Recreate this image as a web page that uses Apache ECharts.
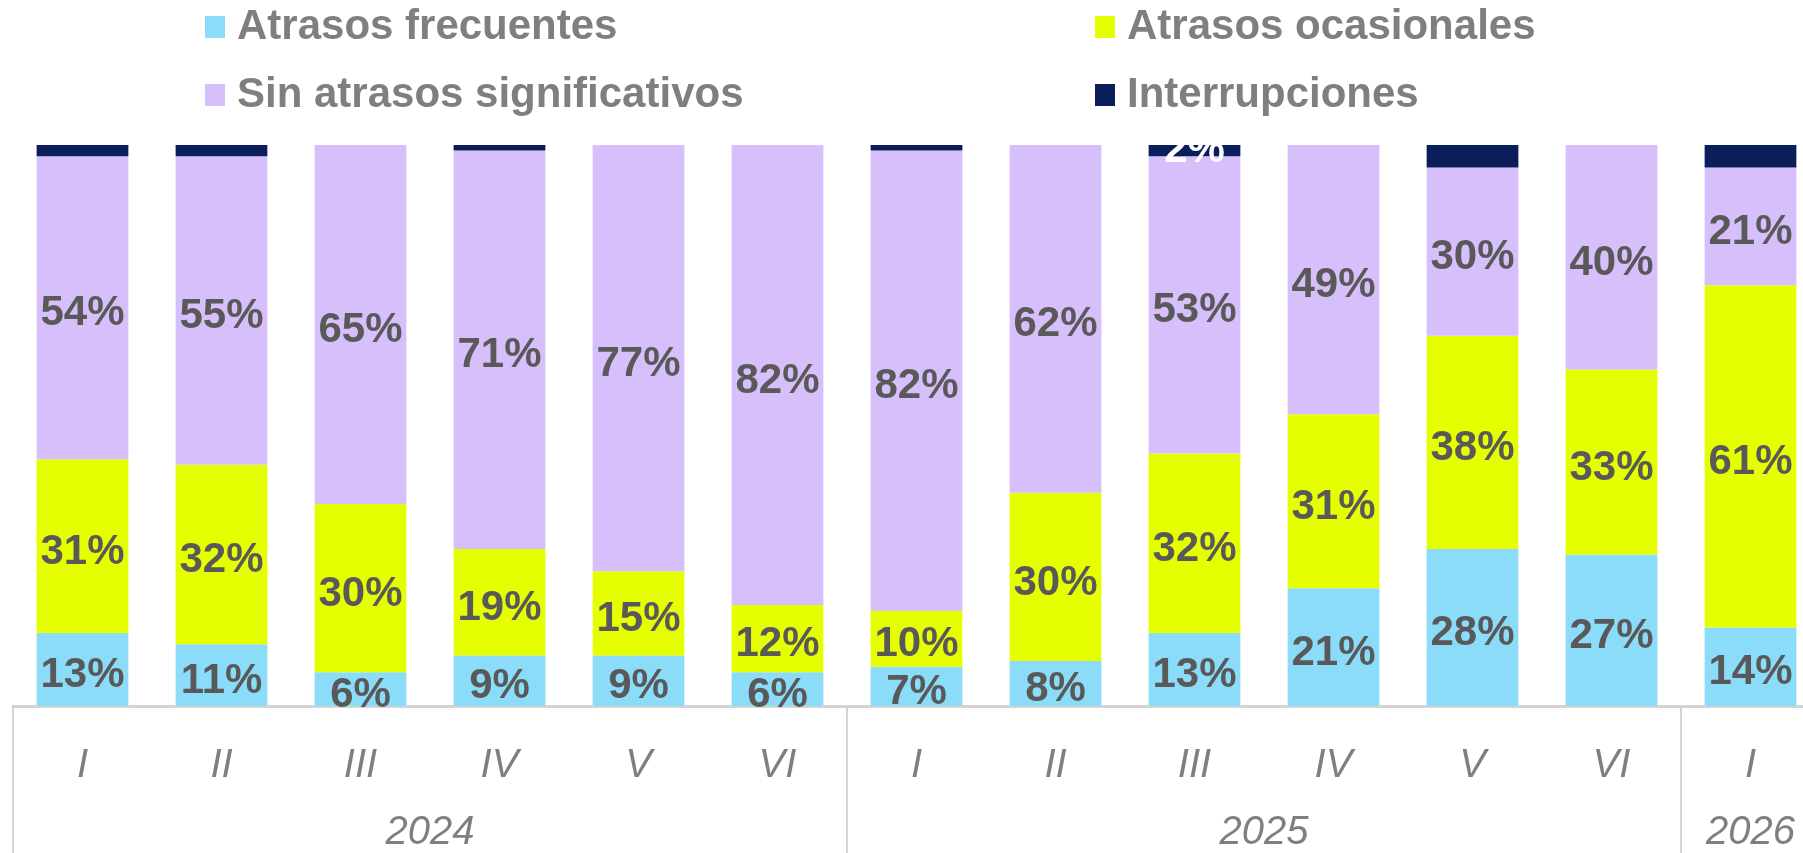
<!DOCTYPE html>
<html>
<head>
<meta charset="utf-8">
<script src="https://cdn.jsdelivr.net/npm/echarts@6.0.0/dist/echarts.min.js"></script>
<style>
html,body{margin:0;padding:0;background:#fff;overflow:hidden;}
#chart{width:1820px;height:853px;}
</style>
</head>
<body>
<div id="chart"></div>
<script>
// tramos (semestres romanos) y años
var periods = ['I','II','III','IV','V','VI','I','II','III','IV','V','VI','I'];
var years = ['2024','2025','2026'];
var yearCenters = [3, 9, 12.5];      // posición del rótulo del año (en bandas)
var yearBounds = [0, 6, 12];         // separadores entre años

// porcentajes por serie
var frecuentes = [13, 11, 6, 9, 9, 6, 7, 8, 13, 21, 28, 27, 14];
var ocasionales = [31, 32, 30, 19, 15, 12, 10, 30, 32, 31, 38, 33, 61];
var sinAtrasos = [54, 55, 65, 71, 77, 82, 82, 62, 53, 49, 30, 40, 21];
var interrupciones = [2, 2, 0, 1, 0, 0, 1, 0, 2, 0, 4, 0, 4];
var labeledInterr = [8];             // solo este tramo lleva rótulo

var FONT = "'Liberation Sans', Arial, sans-serif";
var labelGray = '#595959';

function barSeries(name, data, color, labelColor, showIdx, dy) {
    return {
        name: name,
        type: 'bar',
        stack: 'total',
        barWidth: '66%',
        data: data.map(function (v, i) {
            var item = { value: v };
            if (showIdx && showIdx.indexOf(i) < 0) item.label = { show: false };
            return item;
        }),
        itemStyle: { color: color },
        label: {
            show: true,
            position: 'inside',
            offset: [0, dy],
            formatter: '{c}%',
            color: labelColor,
            fontFamily: FONT,
            fontWeight: 'bold',
            fontSize: 42
        }
    };
}

var legendText = {
    fontFamily: FONT,
    fontWeight: 'bold',
    fontSize: 42,
    lineHeight: 42,
    color: '#7f7f7f',
    padding: [0, 0, 0, 7]
};

var option = {
    animation: false,
    legend: [
        {
            orient: 'vertical', left: 205, top: 6, padding: 0, itemGap: 26,
            icon: 'rect', itemWidth: 20, itemHeight: 22, selectedMode: false,
            textStyle: legendText,
            data: ['Atrasos frecuentes', 'Sin atrasos significativos']
        },
        {
            orient: 'vertical', left: 1095, top: 6, padding: 0, itemGap: 26,
            icon: 'rect', itemWidth: 20, itemHeight: 22, selectedMode: false,
            textStyle: legendText,
            data: ['Atrasos ocasionales', 'Interrupciones']
        }
    ],
    grid: { left: 13, top: 145, right: 0, bottom: 147, containLabel: false },
    xAxis: [
        {
            type: 'category',
            data: periods,
            axisLine: { show: true, lineStyle: { color: '#d4d4d4', width: 3 } },
            axisTick: { show: false },
            axisLabel: {
                margin: 40,
                fontFamily: FONT,
                fontStyle: 'italic',
                fontSize: 40,
                color: '#7f7f7f'
            }
        },
        {
            type: 'value',
            position: 'bottom',
            min: 0,
            max: 13,
            splitLine: { show: false },
            axisLine: { show: false },
            axisTick: {
                show: true,
                customValues: yearBounds,
                length: 150,
                lineStyle: { color: '#d4d4d4', width: 2 }
            },
            axisLabel: {
                customValues: yearCenters,
                formatter: function (v) {
                    return years[yearCenters.indexOf(v)];
                },
                margin: 107,
                fontFamily: FONT,
                fontStyle: 'italic',
                fontSize: 40,
                color: '#7f7f7f'
            }
        }
    ],
    yAxis: { type: 'value', min: 0, max: 100, show: false },
    series: [
        barSeries('Atrasos frecuentes', frecuentes, '#8adcf9', labelGray, null, 6),
        barSeries('Atrasos ocasionales', ocasionales, '#e6ff00', labelGray, null, 6),
        barSeries('Sin atrasos significativos', sinAtrasos, '#d6bffb', labelGray, null, 6),
        barSeries('Interrupciones', interrupciones, '#0b1d5a', '#ffffff', labeledInterr, 0)
    ]
};

var myChart = echarts.init(document.getElementById('chart'));
myChart.setOption(option);
</script>
</body>
</html>
